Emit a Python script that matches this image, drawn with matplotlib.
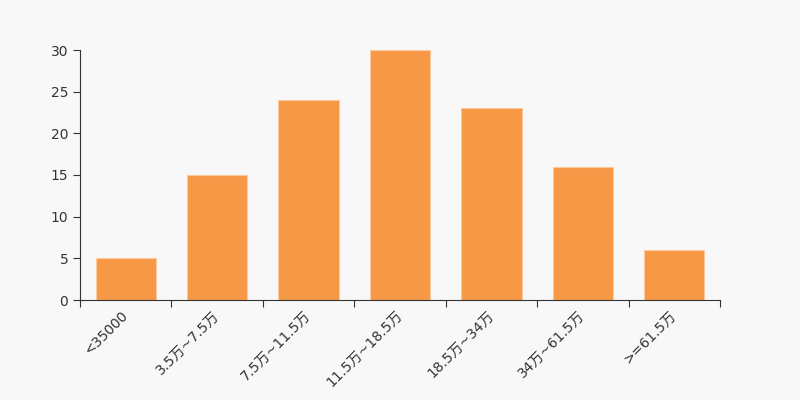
import matplotlib
matplotlib.use("Agg")
import matplotlib.pyplot as plt
import matplotlib.transforms as mtransforms
import numpy as np

plt.rcParams["font.family"] = ["DejaVu Sans", "Noto Sans CJK SC"]

categories = ["<35000", "3.5万~7.5万", "7.5万~11.5万", "11.5万~18.5万",
              "18.5万~34万", "34万~61.5万", ">=61.5万"]
counts = [5, 15, 24, 30, 23, 16, 6]

bg = "#f8f8f8"
fig = plt.figure(figsize=(8, 4), dpi=100, facecolor=bg)
ax = fig.add_axes([0.1, 0.25, 0.8, 0.625], facecolor=bg)

x = np.arange(len(categories))
ax.bar(x, counts, width=0.66, color="#f79846", edgecolor="#fbc9a0", linewidth=0.8)

ax.set_xlim(-0.5, len(categories) - 0.5)
ax.set_ylim(0, 30)
ax.set_yticks([0, 5, 10, 15, 20, 25, 30])

# ticks on category boundaries, labels at centres
ax.set_xticks(np.arange(-0.5, len(categories)), labels=[])
ax.set_xticks(x, labels=categories, minor=True)
ax.tick_params(axis="x", which="minor", length=0, pad=6)
ax.tick_params(axis="both", which="major", length=5, width=0.8, color="#333333",
               labelsize=10, labelcolor="#333333")
shift = mtransforms.ScaledTranslation(-5 / 100, 0, fig.dpi_scale_trans)
for lbl in ax.get_xticklabels(minor=True):
    lbl.set_rotation(45)
    lbl.set_ha("right")
    lbl.set_va("top")
    lbl.set_rotation_mode("anchor")
    lbl.set_fontsize(10)
    lbl.set_color("#333333")
    lbl.set_transform(lbl.get_transform() + shift)

for side in ["top", "right"]:
    ax.spines[side].set_visible(False)
for side in ["left", "bottom"]:
    ax.spines[side].set_color("#333333")
    ax.spines[side].set_linewidth(0.8)

fig.savefig("out.png", facecolor=bg)
